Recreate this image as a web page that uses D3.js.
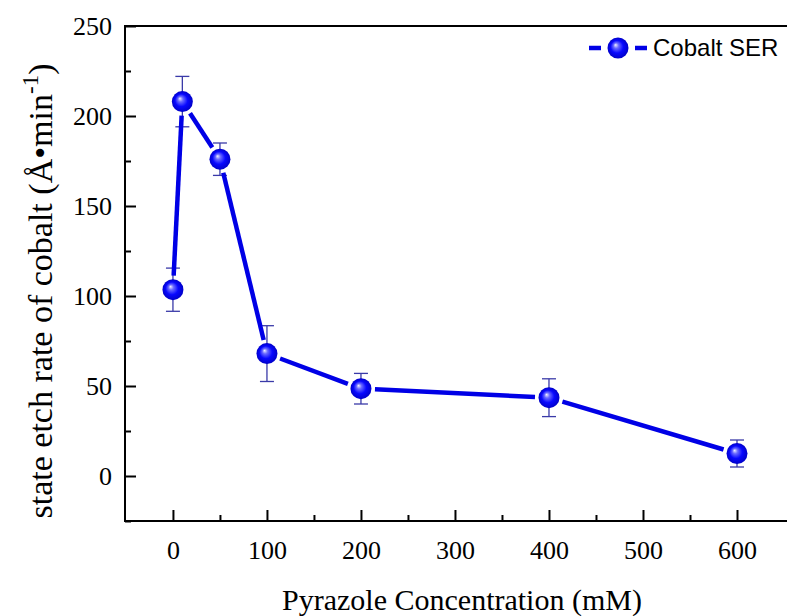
<!DOCTYPE html>
<html lang="en">
<head>
    <meta charset="utf-8">
    <title>Cobalt SER</title>
    <script src="https://d3js.org/d3.v7.min.js" charset="utf-8"></script>
    <style>
        body { margin: 0; background: #fff; }
        .axis path, .axis line { fill: none; stroke: black; stroke-width: 2; }
        .axis text { font-family: "Liberation Serif", "Times New Roman", serif; font-size: 26px; fill: #000; }
    </style>
</head>
<body>
<script>
    // data
    var concentration = [0, 10, 50, 100, 200, 400, 600]
    var etchRate = [103.5, 208, 176, 68, 48.5, 43.5, 12.5]
    var etchError = [12, 14, 9, 15.5, 8.5, 10.5, 7.5]
    var xTicks = [0, 100, 200, 300, 400, 500, 600]
    var yTicks = [0, 50, 100, 150, 200, 250]
    var seriesName = "Cobalt SER"

    var w = 787, h = 616
    var plotLeft = 125, plotTop = 26, plotBottom = 521

    var xScale = d3.scaleLinear().domain([-51, 600]).range([125, 737])
    var yScale = d3.scaleLinear().domain([-25, 250]).range([plotBottom, plotTop])

    var svg = d3.select("body").append("svg").attr("width", w).attr("height", h)

    var defs = svg.append("defs")
    var grad = defs.append("radialGradient").attr("id", "ball")
        .attr("cx", "0.5").attr("cy", "0.5").attr("r", "0.5")
        .attr("fx", "0.38").attr("fy", "0.35")
    grad.append("stop").attr("offset", "0").attr("stop-color", "#f0f0ff")
    grad.append("stop").attr("offset", "0.25").attr("stop-color", "#6a6aff")
    grad.append("stop").attr("offset", "0.6").attr("stop-color", "#0808ff")
    grad.append("stop").attr("offset", "1").attr("stop-color", "#0000c8")

    // frame (top line only; right side runs off the picture)
    svg.append("line").attr("x1", plotLeft).attr("x2", w + 5).attr("y1", plotTop).attr("y2", plotTop)
        .attr("stroke", "black").attr("stroke-width", 2)

    // x axis, ticks inside
    var xAxis = d3.axisBottom(xScale).tickValues(xTicks).tickSize(-11).tickPadding(20)
    var gx = svg.append("g").attr("class", "axis").attr("transform", "translate(0," + plotBottom + ")").call(xAxis)
    gx.select(".domain").remove()
    gx.append("line").attr("x1", plotLeft).attr("x2", w + 5).attr("stroke", "black").attr("stroke-width", 2)
    var xMinor = d3.axisBottom(xScale).tickValues([50, 150, 250, 350, 450, 550]).tickSize(-6).tickFormat("")
    svg.append("g").attr("class", "axis").attr("transform", "translate(0," + plotBottom + ")").call(xMinor)
        .select(".domain").remove()

    // y axis, ticks inside
    var yAxis = d3.axisLeft(yScale).tickValues(yTicks).tickSize(-11).tickPadding(13)
    var gy = svg.append("g").attr("class", "axis").attr("transform", "translate(" + plotLeft + ",0)").call(yAxis)
    gy.select(".domain").remove()
    gy.append("line").attr("y1", plotTop - 1).attr("y2", plotBottom + 1).attr("stroke", "black").attr("stroke-width", 2)
    var yMinor = d3.axisLeft(yScale).tickValues([-25, 25, 75, 125, 175, 225]).tickSize(-6).tickFormat("")
    svg.append("g").attr("class", "axis").attr("transform", "translate(" + plotLeft + ",0)").call(yMinor)
        .select(".domain").remove()

    // axis titles
    svg.append("text").attr("x", 462).attr("y", 610).attr("text-anchor", "middle")
        .style("font-family", "'Liberation Serif', serif").style("font-size", "30px")
        .text("Pyrazole Concentration (mM)")

    var yt = svg.append("text").attr("transform", "translate(52,291) rotate(-90)").attr("text-anchor", "middle")
        .style("font-family", "'Liberation Serif', serif").style("font-size", "34px")
    yt.append("tspan").text("state etch rate of cobalt (Å•min")
    yt.append("tspan").attr("dy", -14).style("font-size", "23px").text("-1")
    yt.append("tspan").attr("dy", 14).text(")")

    var pts = concentration.map(function (c, i) {
        return { x: xScale(c), y: yScale(etchRate[i]), e: etchError[i], v: etchRate[i] }
    })

    // error bars
    var eb = svg.append("g").attr("stroke", "#3a3aa8").attr("stroke-width", 1.3)
    pts.forEach(function (p) {
        var y1 = yScale(p.v + p.e), y2 = yScale(p.v - p.e)
        eb.append("line").attr("x1", p.x).attr("x2", p.x).attr("y1", y1).attr("y2", y2)
        eb.append("line").attr("x1", p.x - 7).attr("x2", p.x + 7).attr("y1", y1).attr("y2", y1)
        eb.append("line").attr("x1", p.x - 7).attr("x2", p.x + 7).attr("y1", y2).attr("y2", y2)
    })

    // connecting line with gaps at the markers
    var gap = 14
    for (var i = 0; i < pts.length - 1; i++) {
        var a = pts[i], b = pts[i + 1]
        var dx = b.x - a.x, dy = b.y - a.y, len = Math.sqrt(dx * dx + dy * dy)
        var ux = dx / len, uy = dy / len
        svg.append("line")
            .attr("x1", a.x + ux * gap).attr("y1", a.y + uy * gap)
            .attr("x2", b.x - ux * gap).attr("y2", b.y - uy * gap)
            .attr("stroke", "#0000e6").attr("stroke-width", 4.5)
    }

    // markers
    svg.selectAll("circle.pt").data(pts).enter().append("circle").attr("class", "pt")
        .attr("cx", function (d) { return d.x }).attr("cy", function (d) { return d.y })
        .attr("r", 10.5).attr("fill", "url(#ball)")

    // legend
    var lg = svg.append("g")
    lg.append("line").attr("x1", 589).attr("x2", 601).attr("y1", 48).attr("y2", 48).attr("stroke", "#0000e6").attr("stroke-width", 4.5)
    lg.append("line").attr("x1", 635).attr("x2", 647).attr("y1", 48).attr("y2", 48).attr("stroke", "#0000e6").attr("stroke-width", 4.5)
    lg.append("circle").attr("cx", 618).attr("cy", 48).attr("r", 10.5).attr("fill", "url(#ball)")
    lg.append("text").attr("x", 653).attr("y", 56)
        .style("font-family", "'Liberation Sans', Arial, sans-serif").style("font-size", "24px")
        .text(seriesName)
</script>
</body>
</html>
